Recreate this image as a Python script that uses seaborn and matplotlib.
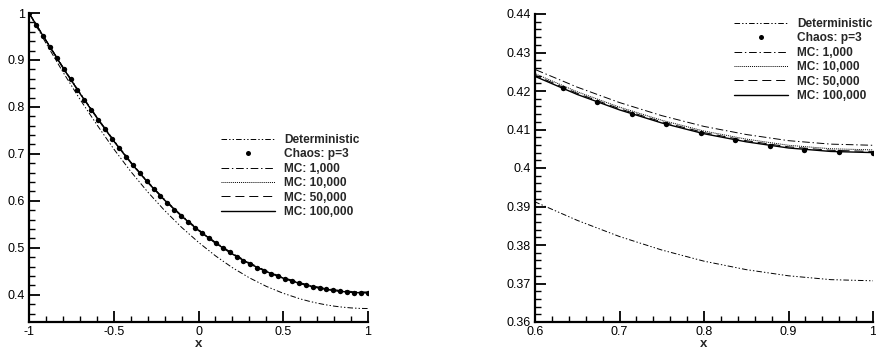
import numpy as np
import pandas as pd
import matplotlib
matplotlib.use("Agg")
import matplotlib.pyplot as plt
from matplotlib.lines import Line2D
from matplotlib.ticker import MultipleLocator, FuncFormatter
import seaborn as sns

# ---------------- data ----------------
x_line = [-1.0, -0.9, -0.8, -0.7, -0.6, -0.5, -0.4, -0.3, -0.2, -0.1, 0.0,
          0.1, 0.2, 0.3, 0.4, 0.5, 0.6, 0.65, 0.7, 0.75, 0.8, 0.85, 0.9, 0.95, 1.0]

deterministic = [1.0, 0.9357, 0.8745, 0.8166, 0.7624, 0.7105, 0.6627, 0.6191, 0.5795,
                 0.5437, 0.5117, 0.4829, 0.4577, 0.4361, 0.4179, 0.4031, 0.3912, 0.3864,
                 0.3822, 0.3787, 0.3758, 0.3736, 0.3720, 0.3710, 0.3707]
mc_1000 = [1.0, 0.9425, 0.8852, 0.8305, 0.7788, 0.7291, 0.6831, 0.6412, 0.6031, 0.5692,
           0.5388, 0.5119, 0.4884, 0.4680, 0.4510, 0.4369, 0.4256, 0.4210, 0.4170, 0.4136,
           0.4108, 0.4087, 0.4071, 0.4062, 0.4059]
mc_10000 = [1.0, 0.9416, 0.8840, 0.8294, 0.7777, 0.7280, 0.6820, 0.6401, 0.6020, 0.5681,
            0.5377, 0.5108, 0.4873, 0.4669, 0.4499, 0.4358, 0.4245, 0.4198, 0.4158, 0.4124,
            0.4096, 0.4075, 0.4059, 0.4050, 0.4047]
mc_50000 = [1.0, 0.9413, 0.8837, 0.8290, 0.7773, 0.7276, 0.6816, 0.6397, 0.6016, 0.5677,
            0.5373, 0.5104, 0.4869, 0.4665, 0.4495, 0.4354, 0.4241, 0.4194, 0.4154, 0.4120,
            0.4092, 0.4071, 0.4055, 0.4046, 0.4043]
mc_100000 = [1.0, 0.9412, 0.8835, 0.8288, 0.7770, 0.7273, 0.6813, 0.6394, 0.6013, 0.5674,
             0.5370, 0.5101, 0.4866, 0.4662, 0.4492, 0.4351, 0.4238, 0.4191, 0.4151, 0.4117,
             0.4089, 0.4068, 0.4052, 0.4043, 0.4040]

x_chaos = np.linspace(-1.0, 1.0, 50)
chaos = [1.0, 0.9755, 0.9518, 0.9279, 0.9043, 0.8812, 0.8585, 0.8364, 0.8147, 0.7935,
         0.7728, 0.7521, 0.7322, 0.7128, 0.6941, 0.6760, 0.6586, 0.6419, 0.6257, 0.6103,
         0.5955, 0.5814, 0.5680, 0.5552, 0.5429, 0.5312, 0.5201, 0.5096, 0.4996, 0.4902,
         0.4813, 0.4729, 0.4651, 0.4579, 0.4511, 0.4449, 0.4391, 0.4338, 0.4290, 0.4246,
         0.4207, 0.4171, 0.4141, 0.4114, 0.4091, 0.4073, 0.4058, 0.4048, 0.4042, 0.4040]

series_names = ["Deterministic", "MC: 1,000", "MC: 10,000", "MC: 50,000", "MC: 100,000"]
series_vals = [deterministic, mc_1000, mc_10000, mc_50000, mc_100000]
chaos_label = "Chaos: p=3"
legend_order = ["Deterministic", chaos_label, "MC: 1,000", "MC: 10,000",
                "MC: 50,000", "MC: 100,000"]

left_xticks = [-1, -0.5, 0, 0.5, 1]
left_yticks = [0.4, 0.5, 0.6, 0.7, 0.8, 0.9, 1.0]
right_xticks = [0.6, 0.7, 0.8, 0.9, 1.0]
right_yticks = [0.36, 0.37, 0.38, 0.39, 0.40, 0.41, 0.42, 0.43, 0.44]

# ---------------- style ----------------
sns.set_style("ticks")
plt.rcParams["font.family"] = ["Liberation Sans", "DejaVu Sans"]
plt.rcParams["lines.scale_dashes"] = False

dash_map = {
    "Deterministic": (4, 1.5, 1, 1.5, 1, 1.5),
    "MC: 1,000": (5.5, 2, 1, 2),
    "MC: 10,000": (0.7, 0.7),
    "MC: 50,000": (6.5, 3.5),
    "MC: 100,000": "",
}
width_map = {
    "Deterministic": 0.7,
    "MC: 1,000": 0.7,
    "MC: 10,000": 0.7,
    "MC: 50,000": 0.7,
    "MC: 100,000": 1.0,
}
palette = {n: "black" for n in series_names}

df = pd.DataFrame({
    "x": np.tile(x_line, len(series_names)),
    "y": np.concatenate([np.asarray(v) for v in series_vals]),
    "series": np.repeat(series_names, len(x_line)),
})
df_chaos = pd.DataFrame({"x": x_chaos, "y": chaos})

fig = plt.figure(figsize=(8.76, 3.51), dpi=100)
axL = fig.add_axes([29 / 876, 1 - 322 / 351, 339 / 876, 309 / 351])
axR = fig.add_axes([535 / 876, 1 - 322 / 351, 338 / 876, 308 / 351])

fmt = FuncFormatter(lambda v, p: f"{v:g}")

for ax in (axL, axR):
    sns.lineplot(data=df, x="x", y="y", hue="series", style="series", size="series",
                 palette=palette, dashes=dash_map, sizes=width_map,
                 hue_order=series_names, style_order=series_names, size_order=series_names,
                 estimator=None, sort=True, legend=False, ax=ax)
    sns.scatterplot(data=df_chaos, x="x", y="y", color="black", s=15,
                    linewidth=0, legend=False, ax=ax, zorder=3)
    for side in ("top", "right"):
        ax.spines[side].set_visible(False)
    for side in ("left", "bottom"):
        ax.spines[side].set_linewidth(1.6)
        ax.spines[side].set_color("black")
    ax.tick_params(which="major", direction="in", length=8, width=1.3,
                   labelsize=9, colors="black", bottom=True, left=True,
                   top=False, right=False, pad=3)
    ax.tick_params(which="minor", direction="in", length=4, width=1.0,
                   colors="black", bottom=True, left=True, top=False, right=False)
    ax.xaxis.set_major_formatter(fmt)
    ax.yaxis.set_major_formatter(fmt)
    ax.set_xlabel("x", fontweight="bold", fontsize=9.5, labelpad=0)
    ax.set_ylabel("")
    ax.set_facecolor("white")

axL.set_xlim(-1, 1)
axL.set_ylim(0.342, 1.0)
axL.set_xticks(left_xticks)
axL.set_yticks(left_yticks)
axL.xaxis.set_minor_locator(MultipleLocator(0.1))
axL.yaxis.set_minor_locator(MultipleLocator(0.02))

axR.set_xlim(0.6, 1.0)
axR.set_ylim(0.36, 0.44)
axR.set_xticks(right_xticks)
axR.set_yticks(right_yticks)
axR.xaxis.set_minor_locator(MultipleLocator(0.02))
axR.yaxis.set_minor_locator(MultipleLocator(0.002))


def make_handles():
    hs = []
    for lab in legend_order:
        if lab == chaos_label:
            hs.append(Line2D([], [], ls="none", marker="o", ms=3.6, color="black",
                             markeredgewidth=0))
        else:
            d = dash_map[lab]
            ls = "-" if d == "" else (0, d)
            hs.append(Line2D([], [], color="black", lw=width_map[lab], ls=ls))
    return hs


leg_kw = dict(loc="upper left", bbox_transform=fig.transFigure, frameon=False,
              handlelength=4.5, handletextpad=0.8, labelspacing=0.2, borderpad=0,
              borderaxespad=0, prop=dict(weight="bold", size=8.6))
axL.legend(make_handles(), legend_order, bbox_to_anchor=(221 / 876, 1 - 134 / 351), **leg_kw)
axR.legend(make_handles(), legend_order, bbox_to_anchor=(734 / 876, 1 - 18 / 351), **leg_kw)

fig.savefig("out.png", dpi=100, facecolor="white")
